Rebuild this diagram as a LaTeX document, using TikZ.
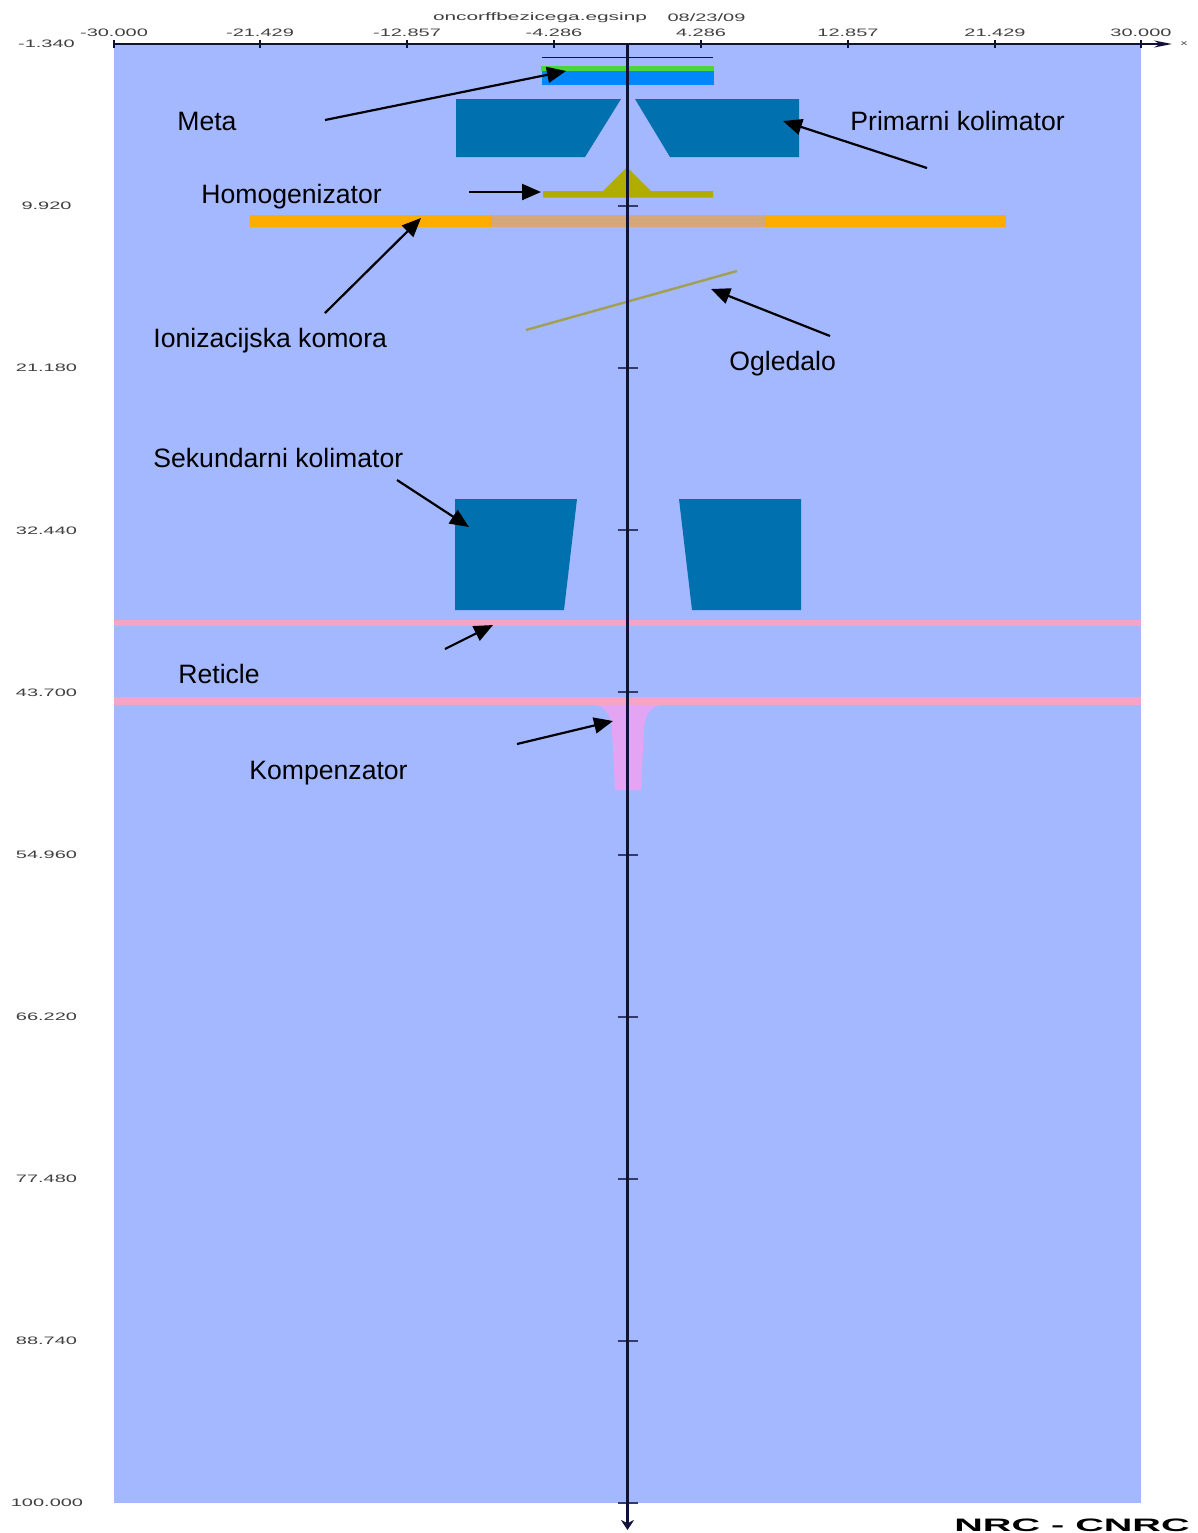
\documentclass[tikz,border=0pt]{standalone}
\usepackage{fontspec}
\setmainfont{Liberation Sans}
\usetikzlibrary{arrows.meta}
\definecolor{bgblue}{HTML}{A4B8FF}
\definecolor{colblue}{HTML}{0070AE}
\definecolor{tgtblue}{HTML}{0088FA}
\definecolor{tgtgreen}{HTML}{48D838}
\definecolor{olive}{HTML}{B0AC00}
\definecolor{amber}{HTML}{FFAC00}
\definecolor{tan}{HTML}{D4A878}
\definecolor{tanline}{HTML}{B8AC9C}
\definecolor{mirror}{HTML}{A0A050}
\definecolor{rosy}{HTML}{F4A4C8}
\definecolor{violet}{HTML}{E4A4F4}
\definecolor{axis}{HTML}{101038}
\tikzset{
  x=0.5pt,y=-0.5pt,
  lbl/.style={anchor=base west,inner sep=0pt,font=\fontsize{13.3pt}{15pt}\selectfont,text=black},
  ticklbl/.style={inner sep=0pt,text=black!75,font=\fontsize{5.4pt}{6pt}\selectfont},
  callout/.style={draw=black,line width=1.1pt,-{Triangle[length=9.5pt,width=8pt]}},
  axisline/.style={draw=axis,line width=0.8pt},
  tickmark/.style={draw=axis!75!bgblue,line width=0.6pt},
}
\newcommand{\wide}[1]{\scalebox{1.85}[1]{#1}}
\begin{document}
\begin{tikzpicture}
\useasboundingbox (0,0) rectangle (1198,1533);
\fill[white] (0,0) rectangle (1198,1533);
% plot area
\fill[bgblue] (114,44) rectangle (1141,1503);
% target
\draw[blue!75!black,line width=0.7pt] (542,57.5) -- (713,57.5);
\fill[tgtblue] (542,71) rectangle (713.5,85);
\fill[tgtgreen] (541,65.5) rectangle (713.5,71);
% primary collimator
\fill[colblue] (456,99) -- (621,99) -- (585,157) -- (456,157) -- cycle;
\fill[colblue] (635,99) -- (799,99) -- (799,157) -- (670,157) -- cycle;
% homogenizer
\fill[olive] (543,191) -- (603,191) -- (627,167) -- (651,191) -- (713,191) -- (713,197.5) -- (543,197.5) -- cycle;
% ionization chamber
\fill[amber] (250,215) rectangle (1006,227);
\fill[tan] (491,215) rectangle (765,227);
\fill[tanline] (491,218.5) rectangle (765,220);
\fill[tanline] (491,222.5) rectangle (765,224);
% mirror
\draw[mirror,line width=1.2pt] (526,330) -- (737,271);
% secondary collimator
\fill[colblue] (455,499) -- (577,499) -- (564,610) -- (455,610) -- cycle;
\fill[colblue] (679,499) -- (801,499) -- (801,610) -- (692,610) -- cycle;
% reticle
\fill[rosy] (114,620) rectangle (1141,625.5);
% compensator
\fill[violet] (596,705) .. controls (606,708) and (611,714) .. (612,730) -- (615,790) -- (641,790) -- (644,730) .. controls (645,714) and (650,708) .. (660,705) -- cycle;
\fill[rosy] (114,697) rectangle (1141,705);
% axes
\draw[axisline,-{Stealth[length=9pt,width=3.5pt]}] (114,44) -- (1172,44);
\foreach \tx in {114,260,407,554,701,848,995,1141}
  \draw[draw=axis,line width=0.8pt] (\tx,40) -- (\tx,48);
\foreach \ty in {206,368,530,692,855,1017,1179,1341,1503}
  \draw[tickmark] (617.5,\ty) -- (637.5,\ty);
\draw[axisline,line width=1.25pt,-{Stealth[length=5pt,width=6.5pt]}] (627.5,44) -- (627.5,1530);
% axis labels
\node[ticklbl] (xa) at (114,33) {\wide{-30.000}};
\node[ticklbl] (xb) at (260,33) {\wide{-21.429}};
\node[ticklbl] (xc) at (407,33) {\wide{-12.857}};
\node[ticklbl] (xd) at (554,33) {\wide{-4.286}};
\node[ticklbl] (xe) at (701,33) {\wide{4.286}};
\node[ticklbl] (xf) at (848,33) {\wide{12.857}};
\node[ticklbl] (xg) at (995,33) {\wide{21.429}};
\node[ticklbl] (xh) at (1141,33) {\wide{30.000}};
\node[ticklbl] (xunit) at (1184,44) {\wide{\fontsize{3.5pt}{4pt}\selectfont x}};
\node[ticklbl] (ya) at (46.5,44) {\wide{-1.340}};
\node[ticklbl] (yb) at (46.5,206) {\wide{9.920}};
\node[ticklbl] (yc) at (46.5,368) {\wide{21.180}};
\node[ticklbl] (yd) at (46.5,531) {\wide{32.440}};
\node[ticklbl] (ye) at (46.5,693) {\wide{43.700}};
\node[ticklbl] (yf) at (46.5,855) {\wide{54.960}};
\node[ticklbl] (yg) at (46.5,1017) {\wide{66.220}};
\node[ticklbl] (yh) at (46.5,1179) {\wide{77.480}};
\node[ticklbl] (yi) at (46.5,1341) {\wide{88.740}};
\node[ticklbl] (yj) at (47,1503) {\wide{100.000}};
\node[ticklbl] (title) at (540,18) {\scalebox{1.93}[1]{oncorffbezicega.egsinp}};
\node[ticklbl] (date) at (706.5,18) {\wide{08/23/09}};
\node[inner sep=0pt,anchor=base,text=black] (logo) at (1072,1531.5) {\scalebox{2.2}[1]{\fontsize{9pt}{10pt}\selectfont\bfseries NRC - CNRC}};
% labels
\node[lbl] (meta) at (177,130) {Meta};
\node[lbl] (prim) at (850,130) {Primarni kolimator};
\node[lbl] (homo) at (201,203) {Homogenizator};
\node[lbl] (ion) at (153,347) {Ionizacijska komora};
\node[lbl] (ogl) at (729,370) {Ogledalo};
\node[lbl] (sek) at (153,467) {Sekundarni kolimator};
\node[lbl] (ret) at (178,683) {Reticle};
\node[lbl] (komp) at (249,779) {Kompenzator};
% callouts
\coordinate (metaS) at (325,120);   \coordinate (metaE) at (566,71);
\coordinate (primS) at (927,168);   \coordinate (primE) at (783,121);
\coordinate (homoS) at (469,192);   \coordinate (homoE) at (541,192);
\coordinate (ionS) at (325,313);    \coordinate (ionE) at (421,218);
\coordinate (oglS) at (830,336);    \coordinate (oglE) at (711,289);
\coordinate (sekS) at (397,480);    \coordinate (sekE) at (469,527);
\coordinate (retS) at (445,649);    \coordinate (retE) at (493,625);
\coordinate (kompS) at (517,744);   \coordinate (kompE) at (613,721);
\draw[callout] (metaS) -- (metaE);
\draw[callout] (primS) -- (primE);
\draw[callout] (homoS) -- (homoE);
\draw[callout] (ionS) -- (ionE);
\draw[callout] (oglS) -- (oglE);
\draw[callout] (sekS) -- (sekE);
\draw[callout] (retS) -- (retE);
\draw[callout] (kompS) -- (kompE);
\end{tikzpicture}
\end{document}
